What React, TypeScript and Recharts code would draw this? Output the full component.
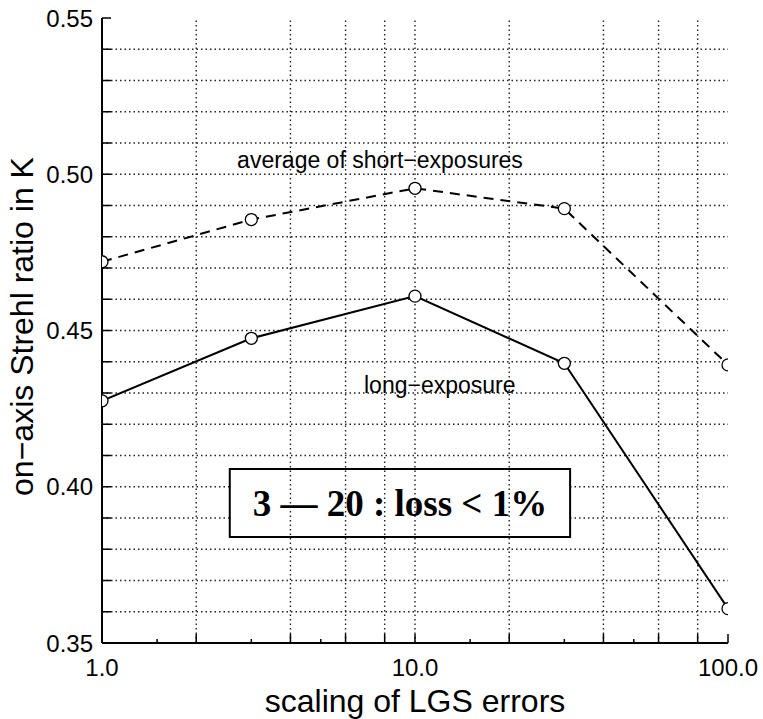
import { CartesianGrid, Label, Line, LineChart, ReferenceArea, ReferenceDot, ReferenceLine, XAxis, YAxis } from "recharts"

const scaling = [1, 3, 10, 30, 100]
const shortExposure = [0.472, 0.4855, 0.4955, 0.489, 0.439]
const longExposure = [0.4275, 0.4475, 0.461, 0.4395, 0.361]

const xLabelTicks = [1, 10, 100]
const xGridTicks = [2, 4, 6, 8, 10, 20, 40, 60, 80]
const xMinorTicks = [1.5, 3, 5, 15, 30, 50]
const yLabelTicks = [0.35, 0.4, 0.45, 0.5, 0.55]
const yGridTicks = [
  0.36, 0.37, 0.38, 0.39, 0.4, 0.41, 0.42, 0.43, 0.44, 0.45,
  0.46, 0.47, 0.48, 0.49, 0.5, 0.51, 0.52, 0.53, 0.54,
]

const FONT = "'Liberation Sans', Arial, Helvetica, sans-serif"
const SERIF = "'Liberation Serif', 'Times New Roman', serif"

const data = scaling.map((s, i) => ({ scaling: s, short: shortExposure[i], long: longExposure[i] }))

const xAllTicks = Array.from(new Set([...xLabelTicks, ...xGridTicks, ...xMinorTicks])).sort((a, b) => a - b)
const yAllTicks = Array.from(new Set([...yLabelTicks, ...yGridTicks])).sort((a, b) => a - b)

const near = (v: number, list: number[]) => list.some((t) => Math.abs(t - v) < 1e-6)

function BottomTick(props: any) {
  const { x, y, payload } = props
  const v = payload.value
  const len = near(v, xMinorTicks) ? 4 : 9
  return (
    <g>
      <line x1={x} y1={y} x2={x} y2={y - len} stroke="#000" strokeWidth={1.5} />
      {near(v, xLabelTicks) && (
        <text x={x} y={y + 33} textAnchor="middle" fontSize={24} fontFamily={FONT} fill="#000">
          {v.toFixed(1)}
        </text>
      )}
    </g>
  )
}

function TopTick(props: any) {
  const { x, y, payload } = props
  const len = near(payload.value, xMinorTicks) ? 4 : 9
  return <line x1={x} y1={y} x2={x} y2={y + len} stroke="#000" strokeWidth={1.5} />
}

function LeftTick(props: any) {
  const { x, y, payload } = props
  const v = payload.value
  return (
    <g>
      <line x1={x} y1={y} x2={x + 9} y2={y} stroke="#000" strokeWidth={1.5} />
      {near(v, yLabelTicks) && (
        <text x={x - 9} y={y} dy="0.36em" textAnchor="end" fontSize={24} fontFamily={FONT} fill="#000">
          {v.toFixed(2)}
        </text>
      )}
    </g>
  )
}

function RightTick(props: any) {
  const { x, y } = props
  return <line x1={x} y1={y} x2={x - 12} y2={y} stroke="#000" strokeWidth={1.5} />
}

const xTitle = (props: any) => {
  const vb = props.viewBox
  return (
    <text x={vb.x + vb.width / 2} y={vb.y + 69} textAnchor="middle" fontSize={32} fontFamily={FONT} fill="#000">
      scaling of LGS errors
    </text>
  )
}

const yTitle = (props: any) => {
  const vb = props.viewBox
  const cx = vb.x + 33
  const cy = vb.y + vb.height / 2 - 4
  return (
    <text x={cx} y={cy} transform={`rotate(-90, ${cx}, ${cy})`} textAnchor="middle" fontSize={32} fontFamily={FONT} fill="#000">
      on−axis Strehl ratio in K
    </text>
  )
}

const axisLine = { stroke: "#000", strokeWidth: 2 }
const gridStyle = { stroke: "#222", strokeDasharray: "1.5 3", strokeWidth: 1.4 }

export default function App() {
  return (
    <div style={{ position: "absolute", left: 0, top: 0, background: "#fff" }}>
      <LineChart width={763} height={719} data={data} margin={{ top: 18, right: 35, bottom: 0, left: 0 }}>
        <CartesianGrid horizontalValues={yGridTicks} vertical={false} {...gridStyle} />
        {xGridTicks.map((v) => (
          <ReferenceLine key={v} x={v} {...gridStyle} />
        ))}
        <XAxis
          dataKey="scaling"
          type="number"
          scale="log"
          domain={[1, 100]}
          allowDataOverflow
          ticks={xAllTicks}
          interval={0}
          tick={<BottomTick />}
          tickLine={false}
          tickSize={0}
          tickMargin={0}
          axisLine={axisLine}
          height={76}
        >
          <Label content={xTitle} />
        </XAxis>
        <XAxis
          xAxisId="top"
          orientation="top"
          type="number"
          scale="log"
          domain={[1, 100]}
          allowDataOverflow
          ticks={xAllTicks}
          interval={0}
          tick={<TopTick />}
          tickLine={false}
          tickSize={0}
          tickMargin={0}
          axisLine={axisLine}
          height={0}
        />
        <YAxis
          type="number"
          domain={[0.35, 0.55]}
          allowDataOverflow
          ticks={yAllTicks}
          interval={0}
          tick={<LeftTick />}
          tickLine={false}
          tickSize={0}
          tickMargin={0}
          axisLine={axisLine}
          width={102}
        >
          <Label content={yTitle} />
        </YAxis>
        <YAxis
          yAxisId="right"
          orientation="right"
          type="number"
          domain={[0.35, 0.55]}
          allowDataOverflow
          ticks={yAllTicks}
          interval={0}
          tick={<RightTick />}
          tickLine={false}
          tickSize={0}
          tickMargin={0}
          axisLine={axisLine}
          width={0}
        />
        <ReferenceArea
          x1={2.56}
          x2={31.3}
          y1={0.3839}
          y2={0.4057}
          fill="#fff"
          fillOpacity={1}
          stroke="#000"
          strokeWidth={2}
          label={{ value: "3 — 20 : loss < 1%", position: "center", fontSize: 37, fontWeight: "bold", fontFamily: SERIF, fill: "#000" }}
        />
        <ReferenceDot
          x={7.73}
          y={0.5046}
          r={0}
          fill="none"
          stroke="none"
          label={{ value: "average of short−exposures", position: "center", fontSize: 23, fontFamily: FONT, fill: "#000" }}
        />
        <ReferenceDot
          x={12}
          y={0.4326}
          r={0}
          fill="none"
          stroke="none"
          label={{ value: "long−exposure", position: "center", fontSize: 23, fontFamily: FONT, fill: "#000" }}
        />
        <Line
          type="linear"
          dataKey="short"
          stroke="#000"
          strokeWidth={2}
          strokeDasharray="10 7"
          dot={{ r: 6, fill: "#fff", stroke: "#000", strokeWidth: 1.3, strokeDasharray: "none" }}
          isAnimationActive={false}
        />
        <Line
          type="linear"
          dataKey="long"
          stroke="#000"
          strokeWidth={2}
          dot={{ r: 6, fill: "#fff", stroke: "#000", strokeWidth: 1.3 }}
          isAnimationActive={false}
        />
      </LineChart>
    </div>
  )
}
